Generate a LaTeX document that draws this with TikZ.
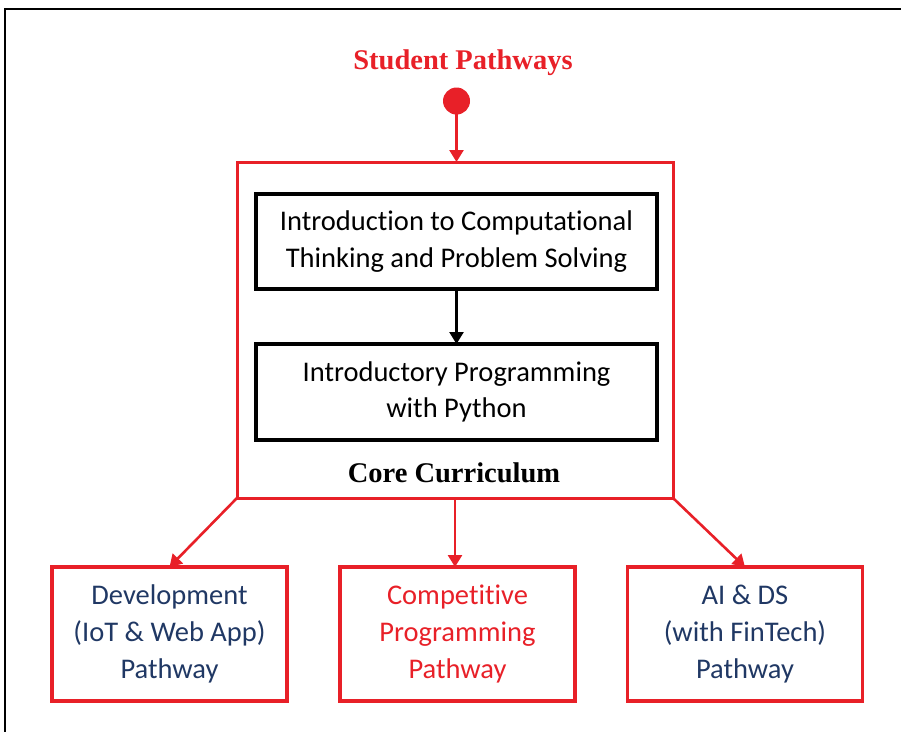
\documentclass[tikz,border=0pt]{standalone}
\usepackage{fontspec}
\setmainfont[RawFeature=-liga]{Carlito}
\newfontfamily\serifbold{Liberation Serif}
\usetikzlibrary{arrows.meta}
\definecolor{myred}{RGB}{232,32,40}
\definecolor{myblue}{RGB}{32,56,100}
\tikzset{
  redarrow/.style={draw=myred,line width=2.6pt,-{Triangle[length=12pt,width=14pt]}},
  blackarrow/.style={draw=black,line width=2.6pt,-{Triangle[length=12pt,width=14pt]}},
  corebox/.style={draw=myred,line width=3pt,inner sep=0pt,outer sep=0pt,minimum width=436pt,minimum height=336pt},
  innerbox/.style={draw=black,line width=3.2pt,inner sep=0pt,outer sep=0pt,minimum width=401pt,minimum height=95pt,align=center,font=\fontsize{28.5}{36.5}\selectfont},
  pathbox/.style={draw=myred,line width=3.5pt,inner sep=0pt,outer sep=0pt,minimum width=235pt,minimum height=134pt,align=center,font=\fontsize{28.5}{37}\selectfont},
  headtext/.style={font=\serifbold\bfseries\fontsize{28.5}{34}\selectfont,inner sep=0pt}
}
\begin{document}
\begin{tikzpicture}[x=1pt,y=-1pt]
\useasboundingbox (0,0) rectangle (901,731);
\clip (0,0) rectangle (901,731);
\draw[line width=2.2pt] (5,9) rectangle (930,760);
\node[headtext,text=myred] (title) at (463,63) {Student Pathways};
\node[circle,fill=myred,minimum size=27pt,inner sep=0pt] (dot) at (456.5,101) {};
\node[corebox] (core) at (455,330) {};
\node[innerbox] (b1) at (456.5,241.5) {Introduction to Computational\\Thinking and Problem Solving};
\node[innerbox,minimum height=96pt] (b2) at (456.5,392) {Introductory Programming\\with Python};
\node[headtext,text=black] (corelabel) at (454,473) {Core Curriculum};
\node[pathbox,text=myblue] (dev) at (169.5,634) {Development\\(IoT \& Web App)\\Pathway};
\node[pathbox,text=myred] (comp) at (457.5,634) {Competitive\\Programming\\Pathway};
\node[pathbox,text=myblue] (ai) at (745,634) {AI \& DS\\(with FinTech)\\Pathway};
\draw[redarrow] (dot.center) -- (dot|-core.north);
\draw[blackarrow] (b1.south) -- (b2.north);
\draw[redarrow] (core.south west) -- (dev.north);
\draw[redarrow] (core.south) -- (core.south|-comp.north);
\draw[redarrow] (core.south east) -- (ai.north);
\end{tikzpicture}
\end{document}
